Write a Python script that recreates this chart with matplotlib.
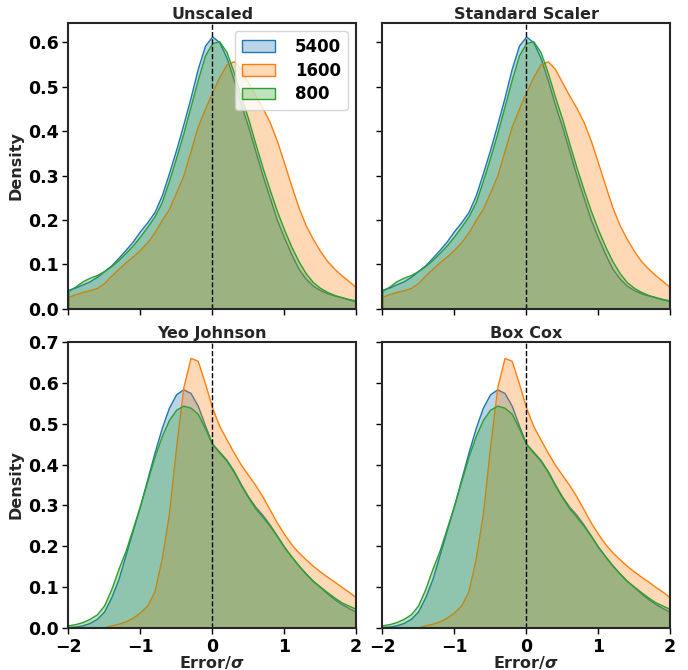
import numpy as np
import matplotlib
matplotlib.use("Agg")
import matplotlib.pyplot as plt
from matplotlib.colors import to_rgba

# ---------------- data (densities) ----------------
x_grid = [round(-2.0 + 0.1 * i, 1) for i in range(41)]

series_labels = ["5400", "1600", "800"]
series_colors = ["#1f77b4", "#ff7f0e", "#2ca02c"]
panel_titles = ["Unscaled", "Standard Scaler", "Yeo Johnson", "Box Cox"]

# Unscaled / Standard Scaler (identical curves)
top_5400 = [0.043, 0.048, 0.055, 0.062, 0.072, 0.085, 0.098, 0.115, 0.133, 0.152,
            0.175, 0.195, 0.218, 0.255, 0.305, 0.358, 0.415, 0.475, 0.540, 0.592,
            0.613, 0.600, 0.565, 0.515, 0.460, 0.410, 0.355, 0.300, 0.250, 0.200,
            0.160, 0.123, 0.090, 0.068, 0.052, 0.042, 0.035, 0.030, 0.026, 0.022,
            0.019]
top_1600 = [0.027, 0.033, 0.038, 0.042, 0.047, 0.058, 0.075, 0.090, 0.105, 0.118,
            0.133, 0.150, 0.172, 0.200, 0.225, 0.262, 0.300, 0.355, 0.410, 0.450,
            0.487, 0.522, 0.550, 0.557, 0.540, 0.510, 0.480, 0.452, 0.420, 0.378,
            0.328, 0.277, 0.228, 0.188, 0.157, 0.130, 0.107, 0.090, 0.075, 0.062,
            0.048]
top_800 = [0.040, 0.050, 0.062, 0.070, 0.076, 0.085, 0.096, 0.110, 0.126, 0.143,
           0.163, 0.185, 0.208, 0.240, 0.288, 0.340, 0.395, 0.455, 0.515, 0.570,
           0.598, 0.602, 0.578, 0.532, 0.478, 0.428, 0.372, 0.318, 0.268, 0.220,
           0.178, 0.140, 0.107, 0.080, 0.060, 0.047, 0.038, 0.031, 0.026, 0.021,
           0.017]

# Yeo Johnson / Box Cox (identical curves)
bot_5400 = [0.002, 0.003, 0.006, 0.012, 0.022, 0.040, 0.075, 0.120, 0.180, 0.240,
            0.300, 0.365, 0.430, 0.490, 0.540, 0.573, 0.585, 0.576, 0.545, 0.497,
            0.452, 0.432, 0.412, 0.385, 0.352, 0.322, 0.297, 0.277, 0.253, 0.226,
            0.199, 0.175, 0.153, 0.133, 0.115, 0.100, 0.084, 0.070, 0.058, 0.048,
            0.039]
bot_1600 = [0.000, 0.000, 0.000, 0.000, 0.000, 0.001, 0.006, 0.010, 0.016, 0.025,
            0.038, 0.055, 0.090, 0.170, 0.280, 0.445, 0.590, 0.662, 0.655, 0.600,
            0.540, 0.495, 0.462, 0.430, 0.400, 0.375, 0.350, 0.322, 0.290, 0.258,
            0.230, 0.205, 0.185, 0.168, 0.152, 0.138, 0.125, 0.113, 0.100, 0.088,
            0.074]
bot_800 = [0.006, 0.009, 0.014, 0.022, 0.033, 0.055, 0.095, 0.145, 0.190, 0.245,
           0.300, 0.360, 0.420, 0.470, 0.510, 0.535, 0.545, 0.540, 0.525, 0.490,
           0.450, 0.430, 0.410, 0.383, 0.350, 0.320, 0.293, 0.272, 0.250, 0.225,
           0.198, 0.175, 0.153, 0.133, 0.115, 0.101, 0.087, 0.074, 0.062, 0.054,
           0.046]

panel_series = [
    [top_5400, top_1600, top_800],
    [top_5400, top_1600, top_800],
    [bot_5400, bot_1600, bot_800],
    [bot_5400, bot_1600, bot_800],
]

# ---------------- plotting ----------------
plt.rcParams["font.family"] = ["DejaVu Sans"]
plt.rcParams["font.weight"] = "bold"
plt.rcParams["axes.labelweight"] = "bold"
plt.rcParams["axes.titleweight"] = "bold"

fig, axes = plt.subplots(2, 2, figsize=(6.88, 6.70), dpi=100, sharex=True, sharey="row")
fig.subplots_adjust(left=0.099, right=0.974, top=0.966, bottom=0.063,
                    wspace=0.09, hspace=0.115)

xs = np.array(x_grid)
for idx, ax in enumerate(axes.flat):
    for vals, lab, col in zip(panel_series[idx], series_labels, series_colors):
        ax.fill_between(xs, 0, np.array(vals), facecolor=to_rgba(col, 0.3),
                        edgecolor=col, linewidth=1.0, label=lab)
    ax.axvline(0, color="black", linestyle="--", linewidth=1.0)
    ax.set_title(panel_titles[idx], fontsize=11.5, fontweight="bold", color="#262626", pad=3)
    ax.set_xlim(-2, 2)
    for sp in ax.spines.values():
        sp.set_color("#262626")
        sp.set_linewidth(1.5)
    ax.tick_params(labelsize=12.5, width=1.0, length=4, colors="black", pad=3)
    for t in ax.get_xticklabels() + ax.get_yticklabels():
        t.set_fontweight("bold")

top_max = max(max(top_5400), max(top_1600), max(top_800))
bot_max = max(max(bot_5400), max(bot_1600), max(bot_800))
axes[0, 0].set_ylim(0, top_max * 1.05)
axes[1, 0].set_ylim(0, bot_max * 1.06)
axes[0, 0].set_yticks(np.arange(0, 0.61, 0.1))
axes[1, 0].set_yticks(np.arange(0, 0.71, 0.1))
axes[1, 0].set_xticks([-2, -1, 0, 1, 2])

for ax in axes[:, 0]:
    ax.set_ylabel("Density", fontsize=11.5, fontweight="bold", color="#262626", labelpad=3)
for ax in axes[1, :]:
    ax.set_xlabel("Error/$\\sigma$", fontsize=11.5, fontweight="bold", color="#262626", labelpad=-1)

leg = axes[0, 0].legend(loc="upper right", prop={"weight": "bold", "size": 12},
                        handlelength=2.0, handletextpad=1.2, borderpad=0.4,
                        labelspacing=0.35)

fig.savefig("out.png", dpi=100)
